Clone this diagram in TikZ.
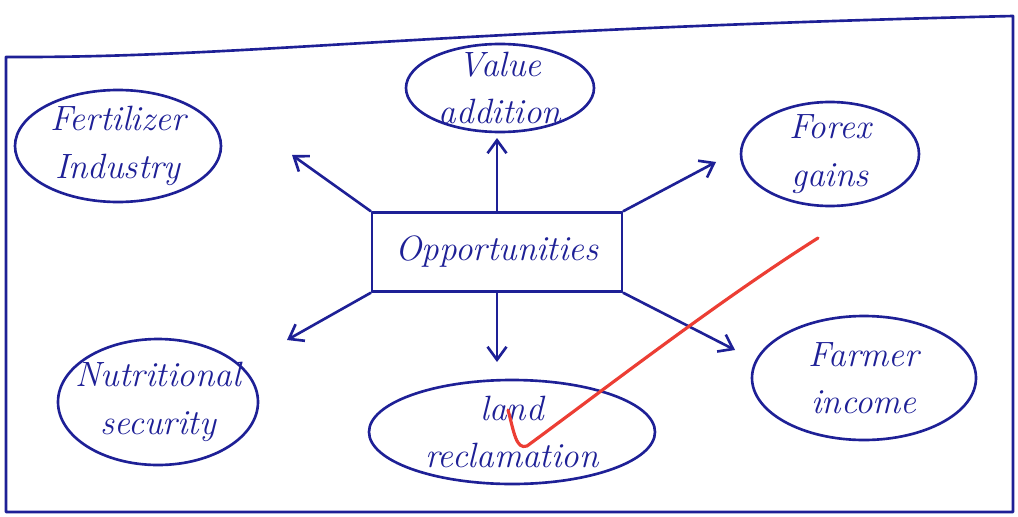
\documentclass[tikz,border=0pt]{standalone}
\usepackage{tikz}
\usetikzlibrary{arrows.meta}
\definecolor{ink}{RGB}{30,32,150}
\definecolor{redink}{RGB}{236,62,52}
\tikzset{
  every picture/.style={line join=round, line cap=round, >={Straight Barb[length=2.6mm,width=3.8mm]}},
  pen/.style={draw=ink, line width=1.5pt},
  word/.style={text=ink, font=\fontsize{20}{27}\selectfont\itshape, align=center, inner sep=0pt},
}

\begin{document}
\begin{tikzpicture}[x=0.2mm,y=-0.2mm]
\useasboundingbox (0,0) rectangle (1018,516);
% page frame
\draw[pen] (6,57) .. controls (250,58) and (420,30) .. (1013,16) -- (1013,512) -- (6,512) -- cycle;
% centre box
\node[word,pen,minimum width=50mm,minimum height=15.8mm] (opp) at (497,252) {Opportunities};
% ideas round it
\node[word] (value) at (500,88) {Value\\addition};
\node[word] (fert) at (118,146) {Fertilizer\\Industry};
\node[word] (forex) at (830,154) {Forex\\gains};
\node[word] (nutri) at (158,402) {Nutritional\\security};
\node[word] (land) at (512,432) {land\\reclamation};
\node[word] (farmer) at (864,378) {Farmer\\income};
\draw[pen] (value.center) ellipse [x radius=94,y radius=44];
\draw[pen] (fert.center) ellipse [x radius=103,y radius=56];
\draw[pen] (forex.center) ellipse [x radius=89,y radius=52];
\draw[pen] (nutri.center) ellipse [x radius=100,y radius=63];
\draw[pen] (land.center) ellipse [x radius=143,y radius=52];
\draw[pen] (farmer.center) ellipse [x radius=112,y radius=62];
% arrow tips
\coordinate (tipN) at (497,138);
\coordinate (tipNW) at (292,155);
\coordinate (tipNE) at (716,162);
\coordinate (tipS) at (497,362);
\coordinate (tipSW) at (287,340);
\coordinate (tipSE) at (735,350);
\draw[pen,->] (opp.north) -- (tipN);
\draw[pen,->] (opp.north west) -- (tipNW);
\draw[pen,->] (opp.north east) -- (tipNE);
\draw[pen,->] (opp.south) -- (tipS);
\draw[pen,->] (opp.south west) -- (tipSW);
\draw[pen,->] (opp.south east) -- (tipSE);
% red tick
\draw[redink,line width=1.8pt] (508,410) .. controls (514,432) and (516,450) .. (527,446)
  .. controls (610,385) and (720,300) .. (818,238);
\end{tikzpicture}
\end{document}
